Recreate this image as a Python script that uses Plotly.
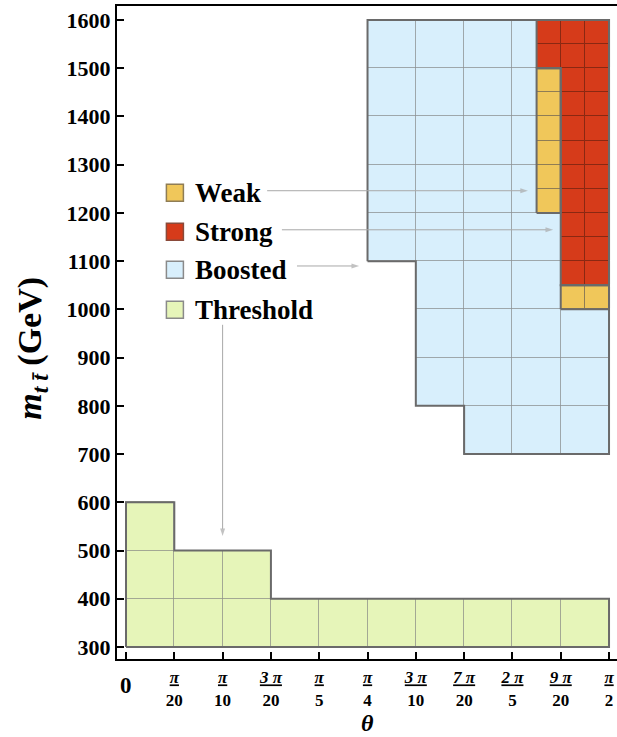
import numpy as np
import plotly.graph_objects as go

PI = np.pi

# ---- region data -------------------------------------------------------
# Coarse grid: theta bins of pi/20, mass bins of 100 GeV
coarse_dtheta = PI / 20
coarse_dm = 100

threshold_cols = [0, 1, 2, 3, 4, 5, 6, 7, 8, 9]
threshold_low = [300, 300, 300, 300, 300, 300, 300, 300, 300, 300]
threshold_high = [600, 500, 500, 400, 400, 400, 400, 400, 400, 400]

boosted_cols = [5, 6, 7, 8, 9]
boosted_low = [1100, 800, 700, 700, 700]
boosted_high = [1600, 1600, 1600, 1600, 1600]

# Fine grid: theta bins of pi/40, mass bins of 50 GeV
fine_dtheta = PI / 40
fine_dm = 50

strong_cols = [17, 18, 19]
strong_low = [1500, 1050, 1050]
strong_high = [1600, 1600, 1600]

weak_cols = [17, 18, 19]
weak_low = [1200, 1000, 1000]
weak_high = [1500, 1050, 1050]

# axis ticks
mass_ticks = list(range(300, 1700, 100))
theta_tick_num = ["π", "π", "3 π", "π", "π", "3 π", "7 π", "2 π", "9 π", "π"]
theta_tick_den = ["20", "10", "20", "5", "4", "10", "20", "5", "20", "2"]

legend_names = ["Weak", "Strong", "Boosted", "Threshold"]

# ---- styling -----------------------------------------------------------
FILL = {"Threshold": "#e6f5b9", "Boosted": "#d8effc",
        "Strong": "#d63b1a", "Weak": "#f0c75a"}
GRID = {"Threshold": "rgba(110,110,110,0.45)", "Boosted": "rgba(110,110,110,0.45)",
        "Strong": "#8a2812", "Weak": "#8f7d55"}
LEG_EDGE = {"Threshold": "#8a8a8a", "Boosted": "#8a8a8a",
            "Strong": "#8a4a3a", "Weak": "#8f7d55"}
OUTLINE = "#6a6a6a"
ARROW = "#a8a8a8"
SERIF = "Liberation Serif"


def region_cells(cols, low, high, dm):
    cells = []
    for c, lo, hi in zip(cols, low, high):
        for m in range(lo, hi, dm):
            cells.append((c, m))
    return cells


def outline_path(cells, dth, dm):
    """Chain the outer edges of a set of equal cells into closed loops."""
    edges = {}
    for c, m in cells:
        corners = [(c, m), (c + 1, m), (c + 1, m + dm), (c, m + dm)]
        for i in range(4):
            a, b = corners[i], corners[(i + 1) % 4]
            key = (min(a, b), max(a, b))
            edges[key] = edges.get(key, 0) + 1
    boundary = [k for k, n in edges.items() if n == 1]
    nbrs = {}
    for a, b in boundary:
        nbrs.setdefault(a, []).append(b)
        nbrs.setdefault(b, []).append(a)
    used = set()
    xs, ys = [], []
    for a, b in boundary:
        if (a, b) in used:
            continue
        loop = [a]
        prev, cur = a, b
        used.add((a, b))
        while cur != a:
            loop.append(cur)
            nxt = [p for p in nbrs[cur]
                   if p != prev and (min(cur, p), max(cur, p)) not in used]
            if not nxt:
                break
            used.add((min(cur, nxt[0]), max(cur, nxt[0])))
            prev, cur = cur, nxt[0]
        loop.append(a)
        xs += [p[0] * dth for p in loop] + [None]
        ys += [p[1] for p in loop] + [None]
    return xs, ys


fig = go.Figure()

regions = [
    ("Threshold", threshold_cols, threshold_low, threshold_high, coarse_dtheta, coarse_dm),
    ("Boosted", boosted_cols, boosted_low, boosted_high, coarse_dtheta, coarse_dm),
    ("Strong", strong_cols, strong_low, strong_high, fine_dtheta, fine_dm),
    ("Weak", weak_cols, weak_low, weak_high, fine_dtheta, fine_dm),
]

outlines = []
for name, cols, lo, hi, dth, dm in regions:
    cells = region_cells(cols, lo, hi, dm)
    fig.add_trace(go.Bar(
        x=[(c + 0.5) * dth for c, m in cells],
        y=[dm] * len(cells),
        base=[m for c, m in cells],
        width=dth,
        marker=dict(color=FILL[name], line=dict(color=GRID[name], width=1)),
        showlegend=False, hoverinfo="skip",
    ))
    ox, oy = outline_path(cells, dth, dm)
    outlines.append((name, ox, oy))
    if name in ("Threshold", "Boosted"):
        fig.add_trace(go.Scatter(x=ox, y=oy, mode="lines",
                                 line=dict(color=OUTLINE, width=2),
                                 showlegend=False, hoverinfo="skip"))

for name, ox, oy in outlines:
    if name in ("Strong", "Weak"):
        fig.add_trace(go.Scatter(x=ox, y=oy, mode="lines",
                                 line=dict(color=OUTLINE, width=2),
                                 showlegend=False, hoverinfo="skip"))

# ---- hand-placed key with pointer arrows --------------------------------
key_theta = 0.159
key_text_theta = 0.218
key_mass = [1242, 1161, 1082, 999]
arrow_tail = {"Weak": (0.459, 1246), "Strong": (0.507, 1165),
              "Boosted": (0.556, 1090), "Threshold": (PI / 10, 968)}
arrow_head = {"Weak": (1.307, 1246), "Strong": (1.389, 1165),
              "Boosted": (0.758, 1090), "Threshold": (PI / 10, 530)}

annotations = []
for name, m in zip(legend_names, key_mass):
    fig.add_trace(go.Scatter(
        x=[key_theta], y=[m], mode="markers",
        marker=dict(symbol="square", size=17, color=FILL[name],
                    line=dict(color=LEG_EDGE[name], width=1.5)),
        showlegend=False, hoverinfo="skip"))
    annotations.append(dict(x=key_text_theta, y=m, xref="x", yref="y",
                            text=f"<b>{name}</b>", showarrow=False,
                            xanchor="left", yanchor="middle",
                            font=dict(family=SERIF, size=27, color="black")))
    (tx, ty), (hx, hy) = arrow_tail[name], arrow_head[name]
    fig.add_trace(go.Scatter(
        x=[tx, hx], y=[ty, hy], mode="lines+markers",
        line=dict(color=ARROW, width=1),
        marker=dict(symbol="arrow", angleref="previous", size=[0, 8],
                    color=ARROW, line=dict(width=0)),
        showlegend=False, hoverinfo="skip"))

# axis decorations
annotations.append(dict(x=0, y=-0.0406, xref="x", yref="paper", text="<b>0</b>",
                        showarrow=False, xanchor="center", yanchor="middle",
                        font=dict(family=SERIF, size=23, color="black")))
annotations.append(dict(x=PI / 4, y=-0.1194, xref="x", yref="paper",
                        text="<b><i>θ</i></b>", showarrow=False, borderpad=0,
                        xanchor="center", yanchor="bottom",
                        font=dict(family=SERIF, size=24, color="black")))
annotations.append(dict(x=-0.17, y=0.475, xref="paper", yref="paper",
                        text="<b><i>m</i><sub><i>t t̄</i></sub> (GeV)</b>",
                        textangle=-90, showarrow=False,
                        xanchor="center", yanchor="middle",
                        font=dict(family=SERIF, size=34, color="black")))

theta_vals = [k * PI / 20 for k in range(1, 11)]
theta_text = [f"<u><i>{n}</i></u><br>{d}"
              for n, d in zip(theta_tick_num, theta_tick_den)]

fig.update_layout(
    width=617, height=737,
    margin=dict(l=117, r=0, t=6, b=78),
    paper_bgcolor="white", plot_bgcolor="white",
    barmode="overlay", bargap=0,
    annotations=annotations,
    xaxis=dict(range=[-0.0293, 1.5967], showgrid=False, zeroline=False,
               showline=True, linecolor="black", linewidth=2, mirror=True,
               ticks="inside", ticklen=7, tickwidth=1.5, tickcolor="black",
               tickvals=theta_vals, ticktext=theta_text, ticklabelstandoff=2,
               tickfont=dict(family=SERIF, size=17, color="black", weight="bold"),
               minor=dict(tickvals=[0], ticks="inside", ticklen=7,
                          tickwidth=1.5, tickcolor="black", showgrid=False)),
    yaxis=dict(range=[275.1, 1629], showgrid=False, zeroline=False,
               showline=True, linecolor="black", linewidth=2,
               ticks="inside", ticklen=7, tickwidth=1.5, tickcolor="black",
               tickvals=mass_ticks, ticktext=[str(v) for v in mass_ticks],
               tickfont=dict(family=SERIF, size=22, color="black", weight="bold")),
)

fig.write_html("out.html")
